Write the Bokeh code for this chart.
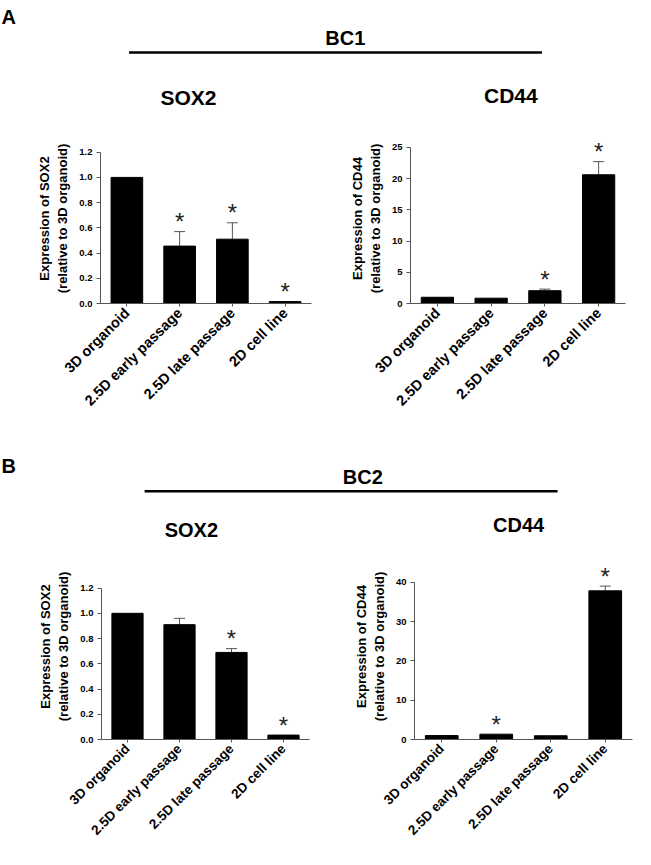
import math
from bokeh.plotting import figure
from bokeh.layouts import column, row
from bokeh.models import (FactorRange, Range1d, FixedTicker, Whisker, TeeHead, Label,
                          ColumnDataSource, NumeralTickFormatter)
from bokeh.embed import file_html
from bokeh.resources import INLINE
from bokeh.core.properties import value

# ---------------- data ----------------
categories = ["3D organoid", "2.5D early passage", "2.5D late passage", "2D cell line"]

bc1_sox2 = [1.0, 0.455, 0.51, 0.015]
bc1_sox2_err = [0.0, 0.115, 0.13, 0.0]
bc1_sox2_star = [False, True, True, True]

bc1_cd44 = [1.0, 0.85, 2.05, 20.6]
bc1_cd44_err = [0.0, 0.0, 0.25, 2.1]
bc1_cd44_star = [False, False, True, True]

bc2_sox2 = [1.0, 0.91, 0.69, 0.035]
bc2_sox2_err = [0.0, 0.05, 0.03, 0.0]
bc2_sox2_star = [False, False, True, True]

bc2_cd44 = [1.0, 1.35, 0.95, 37.8]
bc2_cd44_err = [0.0, 0.0, 0.0, 1.2]
bc2_cd44_star = [False, True, False, True]

sox2_ticks = [0.0, 0.2, 0.4, 0.6, 0.8, 1.0, 1.2]
bc1_cd44_ticks = [0, 5, 10, 15, 20, 25]
bc2_cd44_ticks = [0, 10, 20, 30, 40]

sox2_label = "Expression of SOX2\n(relative to 3D organoid)"
cd44_label = "Expression of CD44\n(relative to 3D organoid)"

# ---------------- layout helpers ----------------
TOTAL_W, TOTAL_H = 634, 848
SX = TOTAL_W / 651.0
SY = TOTAL_H / 865.0
FONT = "Liberation Sans"


def ry(y):
    return round(y * SY)


def rx(x):
    return round(x * SX)


def panel(vals, errs, stars, ticks, fmt, ylabel,
          x0, x1, fl, fr, btop, bbot, y0px, ymaxpx, frame_top, xfont):
    W = rx(x1) - rx(x0)
    H = ry(bbot) - ry(btop)
    mbl = round((fl - x0) * SX)
    fw = round((fr - fl) * SX)
    mbr = W - mbl - fw
    mbt = round((frame_top - btop) * SY)
    fh = round((y0px - frame_top) * SY)
    mbb = H - mbt - fh
    tickmax = ticks[-1]
    upp = tickmax / (y0px - ymaxpx)
    yend = (y0px - frame_top) * upp

    p = figure(width=W, height=H,
               x_range=FactorRange(*categories, range_padding=0, factor_padding=0),
               y_range=Range1d(0, yend), output_backend="svg", toolbar_location=None,
               min_border_left=mbl, min_border_right=mbr, min_border_top=mbt,
               min_border_bottom=mbb, outline_line_color=None)
    p.xgrid.visible = False
    p.ygrid.visible = False

    p.vbar(x=categories, top=vals, width=0.6, fill_color="black", line_color="black")

    ex = [c for c, e in zip(categories, errs) if e > 0]
    elo = [v for v, e in zip(vals, errs) if e > 0]
    ehi = [v + e for v, e in zip(vals, errs) if e > 0]
    if ex:
        src = ColumnDataSource(dict(x=ex, lower=elo, upper=ehi))
        w = Whisker(base="x", lower="lower", upper="upper", source=src, dimension="height",
                    line_color="#555555", line_width=1,
                    upper_head=TeeHead(size=11, line_color="#555555", line_width=1),
                    lower_head=None)
        p.add_layout(w)

    sx_ = [c for c, s in zip(categories, stars) if s]
    sy_ = [v + e for v, e, s in zip(vals, errs, stars) if s]
    p.text(x=sx_, y=sy_, text=["*"] * len(sx_), text_align="center", text_baseline="alphabetic",
           y_offset=-10, text_font=value(FONT), text_font_size="24px", text_color="#222222")

    ya = p.yaxis[0]
    ya.ticker = FixedTicker(ticks=ticks)
    ya.formatter = NumeralTickFormatter(format=fmt)
    ya.bounds = (0, tickmax)
    ya.minor_tick_line_color = None
    ya.major_tick_in = 0
    ya.major_tick_out = 4
    ya.axis_line_color = "#555555"
    ya.major_tick_line_color = "#555555"
    ya.major_label_text_font = FONT
    ya.major_label_text_font_style = "bold"
    ya.major_label_text_font_size = "9.5px"
    ya.major_label_text_color = "black"
    ya.major_label_standoff = 4
    ya.axis_label = ylabel
    ya.axis_label_text_font = FONT
    ya.axis_label_text_font_style = "bold"
    ya.axis_label_text_font_size = "13px"
    ya.axis_label_text_color = "black"
    ya.axis_label_standoff = 6

    xa = p.xaxis[0]
    xa.major_label_orientation = math.pi / 4
    xa.major_tick_in = 0
    xa.major_tick_out = 3
    xa.axis_line_color = "#555555"
    xa.major_tick_line_color = "#555555"
    xa.major_label_text_font = FONT
    xa.major_label_text_font_style = "bold"
    xa.major_label_text_font_size = xfont
    xa.major_label_text_color = "black"
    xa.major_label_standoff = 4
    return p


def header(btop, bbot, letter, letter_base, group, group_cx, group_base,
           line_x0, line_x1, line_y, sub1_cx, sub1_base, sub2_cx, sub2_base, subsize):
    H = ry(bbot) - ry(btop)
    W = TOTAL_W
    p = figure(width=W, height=H, x_range=Range1d(0, W), y_range=Range1d(0, H),
               x_axis_type=None, y_axis_type=None, output_backend="svg",
               toolbar_location=None, min_border=0, outline_line_color=None)
    p.grid.visible = False

    def Y(y):
        return H - (y - btop) * SY

    def add(text, x, y, align, size):
        p.add_layout(Label(x=x * SX, y=Y(y), text=text, text_align=align,
                           text_baseline="alphabetic", text_font=FONT,
                           text_font_style="bold", text_font_size=size,
                           text_color="black"))

    add(letter, 1, letter_base, "left", "20px")
    add(group, group_cx, group_base, "center", "20px")
    add("SOX2", sub1_cx, sub1_base, "center", subsize)
    add("CD44", sub2_cx, sub2_base, "center", subsize)
    p.segment(x0=[line_x0 * SX], y0=[Y(line_y)], x1=[line_x1 * SX], y1=[Y(line_y)],
              line_color="black", line_width=2.5)
    return p


# blocks (reference pixel geometry); plots sharing a row share frame top/bottom
ROW1 = dict(btop=136, bbot=452, frame_top=136)
ROW2 = dict(btop=564, bbot=865, frame_top=564)

hA = header(0, 136, "A", 17, "BC1", 354, 38, 132, 556, 53, 193, 99, 524, 97, "21px")
p1 = panel(bc1_sox2, bc1_sox2_err, bc1_sox2_star, sox2_ticks, "0.0", sox2_label,
           0, 330, 103, 320, y0px=309, ymaxpx=155, xfont="14.5px", **ROW1)
p2 = panel(bc1_cd44, bc1_cd44_err, bc1_cd44_star, bc1_cd44_ticks, "0", cd44_label,
           330, 651, 421, 642, y0px=309, ymaxpx=150, xfont="14.5px", **ROW1)
hB = header(452, 564, "B", 475, "BC2", 372, 486, 148, 572, 500.7, 196, 540, 532, 535, "20px")
p3 = panel(bc2_sox2, bc2_sox2_err, bc2_sox2_star, sox2_ticks, "0.0", sox2_label,
           0, 330, 104, 318, y0px=754, ymaxpx=599.3, xfont="13.5px", **ROW2)
p4 = panel(bc2_cd44, bc2_cd44_err, bc2_cd44_star, bc2_cd44_ticks, "0", cd44_label,
           330, 651, 425, 649, y0px=754, ymaxpx=593.3, xfont="13.5px", **ROW2)

layout = column(hA, row(p1, p2), hB, row(p3, p4))

open("out.html", "w").write(file_html(layout, INLINE))
